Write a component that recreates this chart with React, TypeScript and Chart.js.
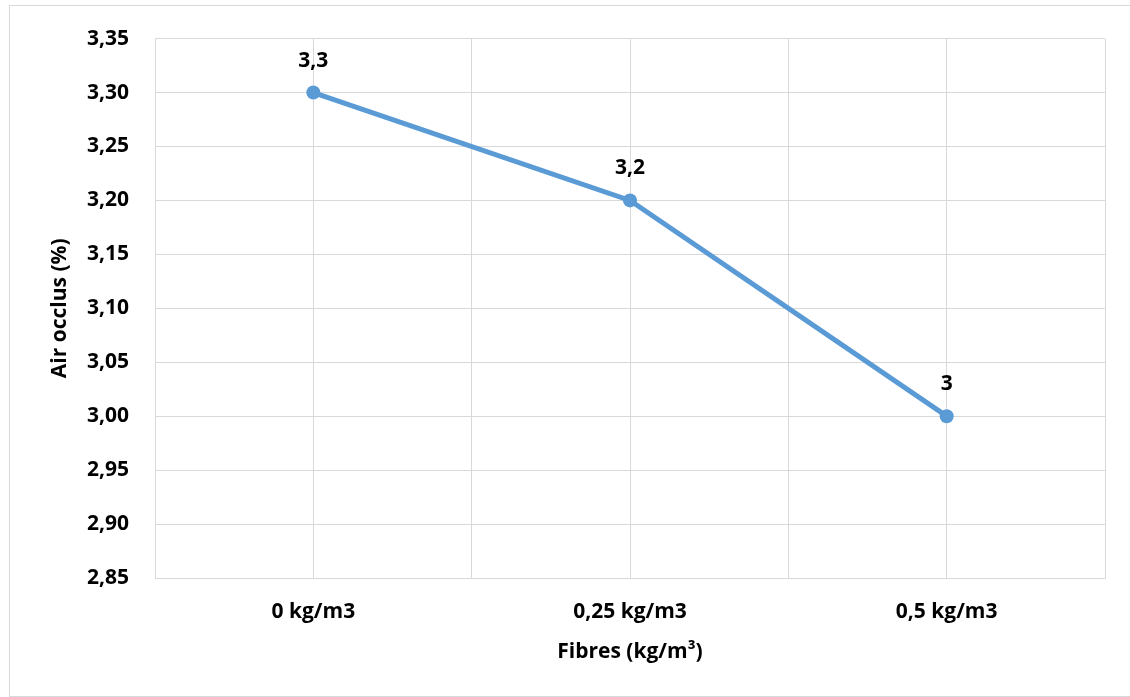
import React, { useEffect, useRef } from "react";
import { Chart, registerables } from "chart.js";

Chart.register(...registerables);

const categories = ["0 kg/m3", "0,25 kg/m3", "0,5 kg/m3"];
const airOcclus = [3.3, 3.2, 3.0];
const dataLabels = ["3,3", "3,2", "3"];
const yTickValues = [2.85, 2.9, 2.95, 3.0, 3.05, 3.1, 3.15, 3.2, 3.25, 3.3, 3.35];
const xGridValues = [-0.5, 0, 0.5, 1, 1.5, 2, 2.5];

const FONT = "Open Sans";
const FS = 21;
const GRID = "#D9D9D9";
const LINE = "#5B9BD5";

const labelPlugin = {
  id: "pointLabels",
  afterDatasetsDraw(chart: any) {
    const meta = chart.getDatasetMeta(0);
    const ctx = chart.ctx;
    ctx.save();
    ctx.font = `bold ${FS}px "${FONT}"`;
    ctx.fillStyle = "#000";
    ctx.textAlign = "center";
    ctx.textBaseline = "middle";
    meta.data.forEach((pt: any, i: number) => {
      ctx.fillText(dataLabels[i], pt.x, pt.y - 32);
    });
    ctx.restore();
  },
};

export default function App() {
  const ref = useRef<HTMLCanvasElement | null>(null);
  useEffect(() => {
    if (!ref.current) return;
    const chart = new Chart(ref.current, {
      type: "line",
      data: {
        datasets: [
          {
            data: airOcclus.map((v, i) => ({ x: i, y: v })),
            borderColor: LINE,
            backgroundColor: LINE,
            borderWidth: 5,
            pointRadius: 7,
            pointBackgroundColor: LINE,
            pointBorderColor: LINE,
            pointBorderWidth: 0,
            tension: 0,
          },
        ],
      },
      options: {
        animation: false,
        responsive: false,
        maintainAspectRatio: false,
        layout: { padding: { left: 0, right: 25, top: 34, bottom: 0 } },
        plugins: { legend: { display: false }, tooltip: { enabled: false } },
        scales: {
          x: {
            type: "linear",
            min: -0.5,
            max: 2.5,
            afterBuildTicks: (scale: any) => {
              scale.ticks = xGridValues.map((v) => ({ value: v }));
            },
            afterFit: (scale: any) => {
              scale.height = 697 - 578;
            },
            grid: { color: GRID, lineWidth: 1, drawTicks: false },
            border: { color: GRID, width: 1 },
            ticks: {
              padding: 21,
              maxRotation: 0,
              autoSkip: false,
              color: "#000",
              font: { family: FONT, size: FS, weight: "bold" },
              callback: (v: any) => {
                const n = Number(v);
                return Number.isInteger(n) ? categories[n] : "";
              },
            },
            title: {
              display: true,
              text: "Fibres (kg/m³)",
              color: "#000",
              font: { family: FONT, size: FS, weight: "bold" },
              padding: { top: 0, bottom: 32 },
            },
          },
          y: {
            min: 2.85,
            max: 3.35,
            afterBuildTicks: (scale: any) => {
              scale.ticks = yTickValues.map((v) => ({ value: v }));
            },
            afterFit: (scale: any) => {
              scale.width = 155;
            },
            grid: { color: GRID, lineWidth: 1, drawTicks: false },
            border: { color: GRID, width: 1 },
            ticks: {
              padding: 26,
              color: "#000",
              font: { family: FONT, size: FS, weight: "bold" },
              callback: (v: any) => Number(v).toFixed(2).replace(".", ","),
            },
            title: {
              display: true,
              text: "Air occlus (%)",
              color: "#000",
              font: { family: FONT, size: FS, weight: "bold" },
              padding: { top: 47, bottom: 0 },
            },
          },
        },
      },
      plugins: [labelPlugin],
    });
    return () => chart.destroy();
  }, []);

  return (
    <div style={{ position: "fixed", left: 0, top: 0, width: 1130, height: 697, background: "#fff" }}>
      <div
        style={{
          position: "absolute",
          left: 9,
          top: 5,
          width: 1125,
          height: 692,
          border: `1px solid ${GRID}`,
          boxSizing: "border-box",
        }}
      />
      <canvas ref={ref} width={1130} height={697} style={{ position: "absolute", left: 0, top: 0 }} />
    </div>
  );
}
